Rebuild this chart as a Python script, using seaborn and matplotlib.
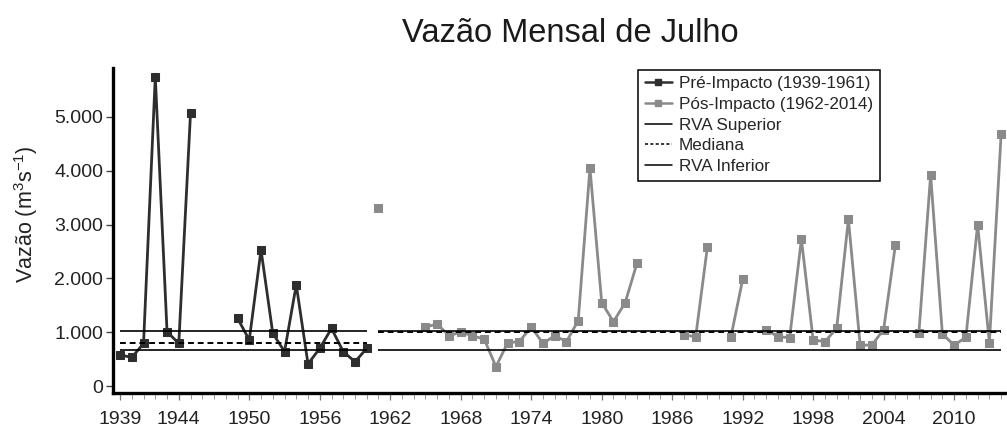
import numpy as np
import pandas as pd
import matplotlib
matplotlib.use('Agg')
import matplotlib.pyplot as plt
from matplotlib.lines import Line2D
from matplotlib.ticker import FuncFormatter, FixedLocator, MultipleLocator
import seaborn as sns

# Vazão mensal de julho (m3/s); NaN = ano sem dado
pre_years = list(range(1939, 1961))
pre_vazao = [580, 530, 790, 5750, 1010, 790, 5080, np.nan, np.nan, np.nan,
             1260, 855, 2530, 980, 640, 1880, 410, 700, 1070, 640, 450, 700]

post_years = list(range(1961, 2015))
post_vazao = [3300, np.nan, np.nan, np.nan, 1100, 1150, 935, 1000, 935, 870,
              360, 805, 825, 1100, 790, 935, 825, 1215, 4050, 1550,
              1195, 1550, 2280, np.nan, np.nan, np.nan, 950, 915, 2590, np.nan,
              915, 1980, np.nan, 1050, 915, 900, 2730, 855, 825, 1070,
              3100, 760, 760, 1050, 2620, np.nan, 990, 3920, 965, 760,
              905, 3000, 805, 4680]

# limites RVA e mediana por período
periodo_inicio = [1939, 1961]
periodo_fim = [1960, 2014]
rva_superior = [1020, 1020]
mediana = [790, 1010]
rva_inferior = [665, 660]

tick_years = [1939, 1944, 1950, 1956, 1962, 1968, 1974, 1980, 1986, 1992,
              1998, 2004, 2010]

PRE_COLOR = '#2e2e2e'
POS_COLOR = '#8a8a8a'


def series_frame(years, values):
    df = pd.DataFrame({'ano': years, 'vazao': values})
    # cada trecho sem falhas vira um segmento, para não ligar os buracos
    df['segmento'] = df['vazao'].isna().cumsum()
    return df.dropna()


sns.set_style('white')
plt.rcParams['font.family'] = ['Liberation Sans', 'DejaVu Sans']
plt.rcParams['mathtext.fontset'] = 'custom'
plt.rcParams['mathtext.rm'] = 'Liberation Sans'

fig = plt.figure(figsize=(10.07, 4.28), dpi=100)
ax = fig.add_axes([113 / 1007, 1 - 393 / 428, 894 / 1007, 325 / 428])

for years, values, color in [(pre_years, pre_vazao, PRE_COLOR),
                             (post_years, post_vazao, POS_COLOR)]:
    sns.lineplot(data=series_frame(years, values), x='ano', y='vazao',
                 units='segmento', estimator=None, color=color,
                 marker='s', markersize=5.6, markeredgecolor=color,
                 linewidth=2.0, legend=False, ax=ax)

for i in range(len(periodo_inicio)):
    x0, x1 = periodo_inicio[i], periodo_fim[i]
    ax.hlines(rva_superior[i], x0, x1, color='black', linewidth=1.2)
    ax.hlines(rva_inferior[i], x0, x1, color='black', linewidth=1.2)
    ax.hlines(mediana[i], x0, x1, color='black', linewidth=1.4,
              linestyles=(0, (3, 2)))

ax.set_xlim(1938.4, 2014.5)
ax.set_ylim(-130, 5910)

ax.yaxis.set_major_locator(FixedLocator([0, 1000, 2000, 3000, 4000, 5000]))
ax.yaxis.set_major_formatter(FuncFormatter(lambda v, p: f'{v:,.0f}'.replace(',', '.')))
ax.xaxis.set_major_locator(FixedLocator(tick_years))
ax.xaxis.set_minor_locator(MultipleLocator(1))

ax.tick_params(axis='y', which='major', direction='out', length=5, width=1,
               color='#444444', labelsize=14, pad=2, left=True)
ax.tick_params(axis='x', which='major', direction='out', length=5, width=0.9,
               color='#777777', labelsize=14, pad=8, bottom=True)
ax.tick_params(axis='x', which='minor', direction='out', length=4, width=0.7,
               color='#999999', bottom=True)
for lab in ax.get_xticklabels() + ax.get_yticklabels():
    lab.set_color('#222222')

sns.despine(ax=ax)
for side in ['left', 'bottom']:
    ax.spines[side].set_linewidth(2.4)
    ax.spines[side].set_color('black')

ax.set_xlabel('')
ax.set_ylabel('Vazão (m$^\\mathregular{3}$s$^\\mathregular{-1}$)', fontsize=15.5,
              color='#222222')
ax.yaxis.set_label_coords(-0.082, 0.55)

fig.text(570 / 1007, 1 - 34 / 428, 'Vazão Mensal de Julho', ha='center',
         va='center', fontsize=23.5, color='#1a1a1a')

handles = [
    Line2D([], [], color=PRE_COLOR, marker='s', markersize=5, linewidth=1.8),
    Line2D([], [], color=POS_COLOR, marker='s', markersize=5, linewidth=1.8),
    Line2D([], [], color='black', linewidth=1.1),
    Line2D([], [], color='black', linewidth=1.1, linestyle=(0, (2, 1.5))),
    Line2D([], [], color='black', linewidth=1.1),
]
labels = ['Pré-Impacto (1939-1961)', 'Pós-Impacto (1962-2014)',
          'RVA Superior', 'Mediana', 'RVA Inferior']
leg = ax.legend(handles, labels, loc='upper left', bbox_to_anchor=(0.587, 0.995),
                borderaxespad=0, fontsize=12.3, handlelength=1.6,
                handletextpad=0.4, labelspacing=0.33, borderpad=0.4,
                fancybox=False, framealpha=1, edgecolor='black')
leg.get_frame().set_linewidth(1.1)

fig.savefig('out.png', dpi=100)
